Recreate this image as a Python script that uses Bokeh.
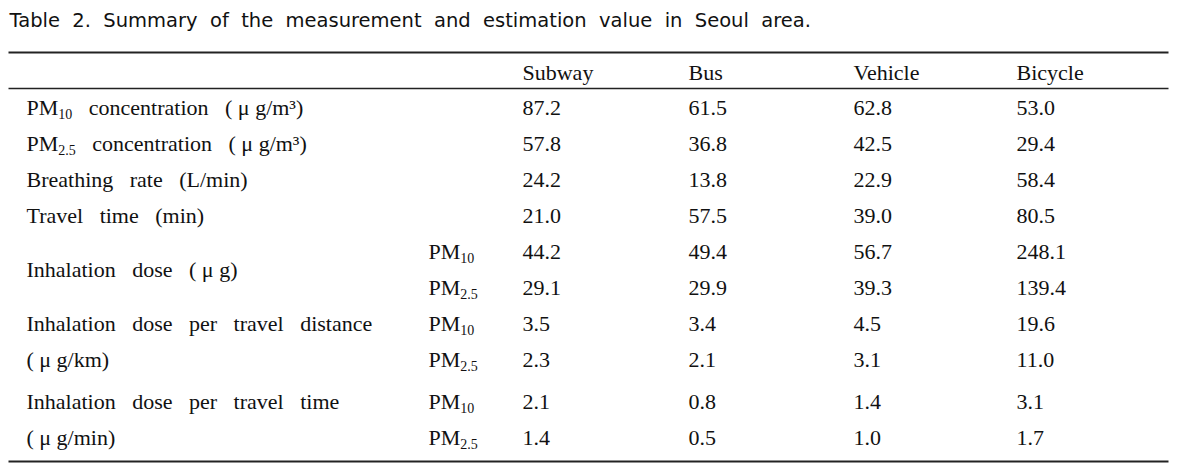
import re
from bokeh.plotting import figure
from bokeh.models import ColumnDataSource, Range1d
from bokeh.core.properties import value
from bokeh.embed import file_html
from bokeh.resources import INLINE

# ---------------- data ----------------
title_text = "Table 2. Summary of the measurement and estimation value in Seoul area."
columns = ["Subway", "Bus", "Vehicle", "Bicycle"]
subway = [87.2, 57.8, 24.2, 21.0, 44.2, 29.1, 3.5, 2.3, 2.1, 1.4]
bus = [61.5, 36.8, 13.8, 57.5, 49.4, 29.9, 3.4, 2.1, 0.8, 0.5]
vehicle = [62.8, 42.5, 22.9, 39.0, 56.7, 39.3, 4.5, 3.1, 1.4, 1.0]
bicycle = [53.0, 29.4, 58.4, 80.5, 248.1, 139.4, 19.6, 11.0, 3.1, 1.7]
sub_labels = ["", "", "", "", "PM_{10}", "PM_{2.5}", "PM_{10}", "PM_{2.5}", "PM_{10}", "PM_{2.5}"]
row_labels = [
    "PM_{10} concentration (\u00a0\u03bc\u00a0g/m\u00b3)",
    "PM_{2.5} concentration (\u00a0\u03bc\u00a0g/m\u00b3)",
    "Breathing rate (L/min)",
    "Travel time (min)",
    "Inhalation dose (\u00a0\u03bc\u00a0g)",
    "Inhalation dose per travel distance",
    "(\u00a0\u03bc\u00a0g/km)",
    "Inhalation dose per travel time",
    "(\u00a0\u03bc\u00a0g/min)",
]
row_label_rows = [0, 1, 2, 3, 4.5, 6, 7, 8, 9]

# ---------------- layout / style ----------------
W, H = 1187, 464
BODY_FONT = "Liberation Serif"
TITLE_FONT = "DejaVu Sans"
BODY_PX = 22
SUB_PX = 14
SUB_DY = 6
GAP = "\u00a0\u00a0\u00a0"
TEXT_COLOR = "#111111"
RULE_COLOR = "#222222"

ROW_TOP = 107
ROW_STEP = 36
EXTRA_GAP_FROM = 8
EXTRA_GAP = 6
HEADER_Y = 72
RULES_Y = [52, 88, 461]
RULES_W = [2.0, 1.5, 2.0]
RULE_X0, RULE_X1 = 8, 1168
LABEL_X = 26
SUBCOL_X = 428
COL_X = [522, 688, 853, 1016]
TITLE_X, TITLE_Y = 9, 20

TIMES_EM = {"P": 0.556, "M": 0.889, "0": 0.5, "1": 0.5, "2": 0.5, "5": 0.5, ".": 0.25}


def row_y(i):
    y = ROW_TOP + ROW_STEP * i
    if i >= EXTRA_GAP_FROM:
        y += EXTRA_GAP
    return y


def em_width(s):
    return sum(TIMES_EM.get(c, 0.5) for c in s)


def pieces(label, x, y):
    out = []
    off = 0.0
    for part in re.split(r"(_\{[^}]*\})", label):
        if not part:
            continue
        if part.startswith("_{"):
            t = part[2:-1]
            size, dy = SUB_PX, SUB_DY
        else:
            t = part
            size, dy = BODY_PX, 0
            if t.startswith(" "):
                off += 0.25 * 3 * BODY_PX
                t = t.lstrip(" ")
            t = t.replace(" ", GAP)
        out.append((x, y, t, off, dy, f"{size}px"))
        off += em_width(t) * size
    return out


segs = []
for lab, r in zip(row_labels, row_label_rows):
    segs += pieces(lab, LABEL_X, row_y(r))
for i, lab in enumerate(sub_labels):
    if lab:
        segs += pieces(lab, SUBCOL_X, row_y(i))
for name, cx in zip(columns, COL_X):
    segs.append((cx, HEADER_Y, name, 0, 0, f"{BODY_PX}px"))
for series, cx in zip([subway, bus, vehicle, bicycle], COL_X):
    for i, v in enumerate(series):
        segs.append((cx, row_y(i), f"{v:.1f}", 0, 0, f"{BODY_PX}px"))

src = ColumnDataSource(dict(
    x=[s[0] for s in segs], y=[s[1] for s in segs], text=[s[2] for s in segs],
    xo=[s[3] for s in segs], yo=[s[4] for s in segs], fs=[s[5] for s in segs],
))

p = figure(width=W, height=H, output_backend="svg", toolbar_location=None,
           x_range=Range1d(0, W), y_range=Range1d(H, 0),
           min_border=0, outline_line_color=None)
p.axis.visible = False
p.grid.visible = False
p.background_fill_color = "white"
p.border_fill_color = "white"

p.segment(x0=[RULE_X0] * 3, x1=[RULE_X1] * 3, y0=RULES_Y, y1=RULES_Y,
          line_width=RULES_W, line_color=RULE_COLOR)

p.text(x="x", y="y", text="text", x_offset="xo", y_offset="yo", text_font_size="fs",
       source=src, text_font=value(BODY_FONT), text_color=TEXT_COLOR,
       text_align="left", text_baseline="middle")

p.text(x=[TITLE_X], y=[TITLE_Y], text=[title_text.replace(" ", "\u00a0\u00a0")],
       text_font=value(TITLE_FONT), text_font_size="19.5px", text_color=TEXT_COLOR,
       text_align="left", text_baseline="middle")

open("out.html", "w").write(file_html(p, INLINE))
